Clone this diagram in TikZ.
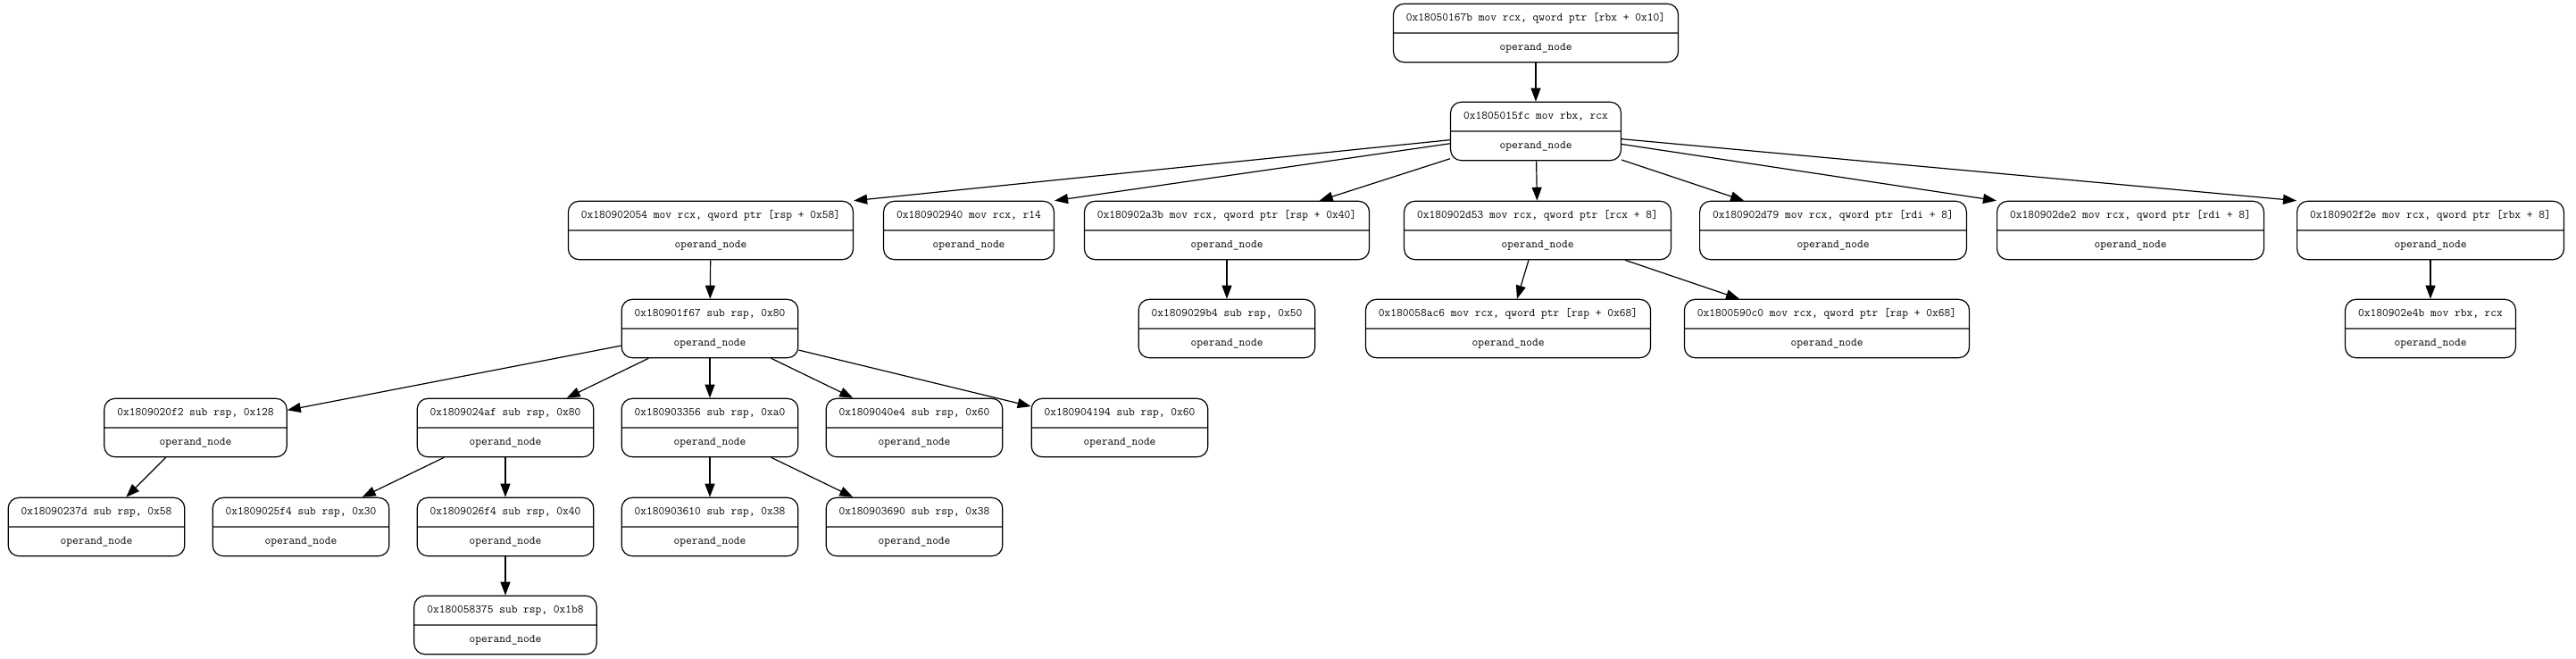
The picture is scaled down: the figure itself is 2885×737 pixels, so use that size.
\documentclass[tikz,border=0pt]{standalone}
\usetikzlibrary{shapes.multipart,arrows.meta}
\newcommand{\opnode}[3]{\node[opbox] (#1) at #2 {\strut #3\nodepart{two}\strut operand\_node};}

\begin{document}
\begin{tikzpicture}[x=1pt,y=-1pt,
  opbox/.style={draw,line width=1.2pt,rounded corners=12pt,rectangle split,rectangle split parts=2,
    inner xsep=14.5pt,inner ysep=7.9pt,font=\fontsize{13.1}{15.7}\selectfont\ttfamily},
  link/.style={line width=1.2pt,-{Triangle[length=15pt,width=11pt]}}]
\useasboundingbox (0,0) rectangle (2885,737);
\opnode{n67b}{(1720,37)}{0x18050167b mov rcx, qword ptr [rbx + 0x10]}
\opnode{n5fc}{(1720,147)}{0x1805015fc mov rbx, rcx}
% row 2
\opnode{n054}{(796,258)}{0x180902054 mov rcx, qword ptr [rsp + 0x58]}
\opnode{n940}{(1085,258)}{0x180902940 mov rcx, r14}
\opnode{na3b}{(1374,258)}{0x180902a3b mov rcx, qword ptr [rsp + 0x40]}
\opnode{nd53}{(1722,258)}{0x180902d53 mov rcx, qword ptr [rcx + 8]}
\opnode{nd79}{(2053,258)}{0x180902d79 mov rcx, qword ptr [rdi + 8]}
\opnode{nde2}{(2386,258)}{0x180902de2 mov rcx, qword ptr [rdi + 8]}
\opnode{nf2e}{(2722,258)}{0x180902f2e mov rcx, qword ptr [rbx + 8]}
% row 3
\opnode{nf67}{(795,368)}{0x180901f67 sub rsp, 0x80}
\opnode{n9b4}{(1374,368)}{0x1809029b4 sub rsp, 0x50}
\opnode{nac6}{(1689,368)}{0x180058ac6 mov rcx, qword ptr [rsp + 0x68]}
\opnode{n0c0}{(2046,368)}{0x1800590c0 mov rcx, qword ptr [rsp + 0x68]}
\opnode{ne4b}{(2722,368)}{0x180902e4b mov rbx, rcx}
% row 4
\opnode{n0f2}{(219,479)}{0x1809020f2 sub rsp, 0x128}
\opnode{n4af}{(566,479)}{0x1809024af sub rsp, 0x80}
\opnode{n356}{(795,479)}{0x180903356 sub rsp, 0xa0}
\opnode{n0e4}{(1024,479)}{0x1809040e4 sub rsp, 0x60}
\opnode{n194}{(1254,479)}{0x180904194 sub rsp, 0x60}
% row 5
\opnode{n37d}{(108,590)}{0x18090237d sub rsp, 0x58}
\opnode{n5f4}{(337,590)}{0x1809025f4 sub rsp, 0x30}
\opnode{n6f4}{(566,590)}{0x1809026f4 sub rsp, 0x40}
\opnode{n610}{(795,590)}{0x180903610 sub rsp, 0x38}
\opnode{n690}{(1024,590)}{0x180903690 sub rsp, 0x38}
% row 6
\opnode{n375}{(566,700)}{0x180058375 sub rsp, 0x1b8}

\draw[link] (n67b) -- (n5fc);
\draw[link] (n5fc) -- (n054.north east);
\draw[link] (n5fc) -- (n940.north east);
\draw[link] (n5fc) -- (na3b);
\draw[link] (n5fc) -- (nd53);
\draw[link] (n5fc) -- (nd79);
\draw[link] (n5fc) -- (nde2.north west);
\draw[link] (n5fc) -- (nf2e.north west);
\draw[link] (n054) -- (nf67);
\draw[link] (na3b) -- (n9b4);
\draw[link] (nd53) -- (nac6);
\draw[link] (nd53) -- (n0c0);
\draw[link] (nf2e) -- (ne4b);
\draw[link] (nf67) -- (n0f2);
\draw[link] (nf67) -- (n4af);
\draw[link] (nf67) -- (n356);
\draw[link] (nf67) -- (n0e4);
\draw[link] (nf67) -- (n194);
\draw[link] (n0f2) -- (n37d);
\draw[link] (n4af) -- (n5f4);
\draw[link] (n4af) -- (n6f4);
\draw[link] (n356) -- (n610);
\draw[link] (n356) -- (n690);
\draw[link] (n6f4) -- (n375);
\end{tikzpicture}
\end{document}
